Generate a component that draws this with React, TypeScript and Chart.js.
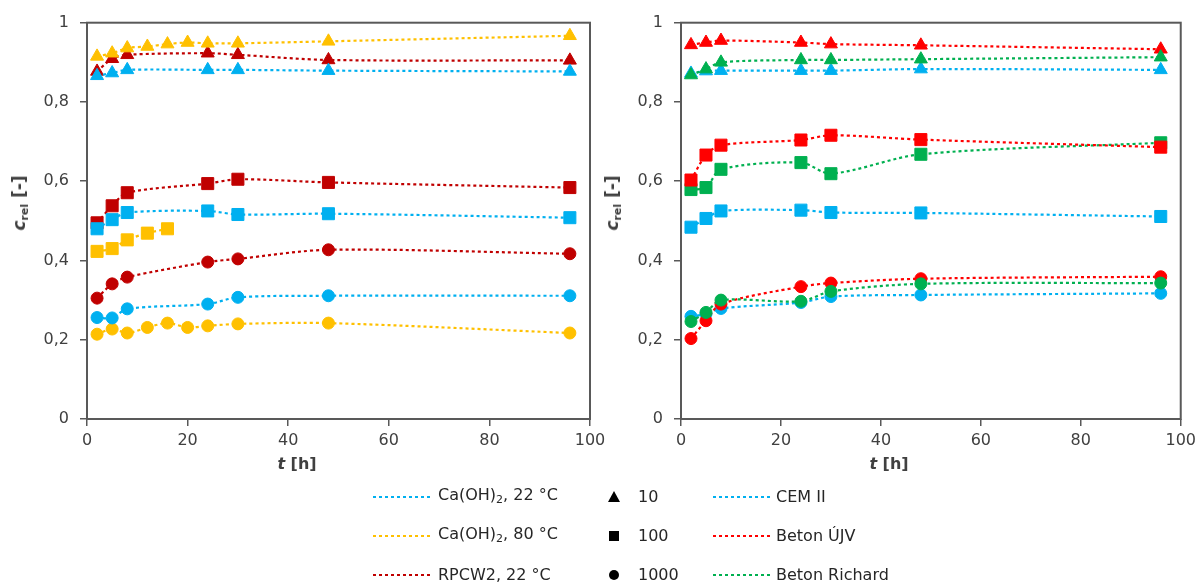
import React, { useEffect, useRef } from 'react';
import { Chart, registerables } from 'chart.js';

Chart.register(...registerables);

// ---------- data ----------
const tShort = [2, 5, 8, 24, 30, 48, 96];
const tHot = [2, 5, 8, 12, 16, 20, 24, 30, 48, 96];
const tHotSq = [2, 5, 8, 12, 16];

// left panel
const ca22_10 = [0.866, 0.873, 0.881, 0.881, 0.881, 0.879, 0.877];
const ca22_100 = [0.48, 0.503, 0.521, 0.525, 0.516, 0.518, 0.508];
const ca22_1000 = [0.256, 0.255, 0.278, 0.29, 0.307, 0.311, 0.311];
const ca80_10 = [0.915, 0.923, 0.936, 0.94, 0.946, 0.95, 0.948, 0.948, 0.953, 0.967];
const ca80_100 = [0.423, 0.43, 0.452, 0.469, 0.48];
const ca80_1000 = [0.214, 0.227, 0.217, 0.231, 0.242, 0.231, 0.235, 0.24, 0.242, 0.217];
const rpcw_10 = [0.877, 0.909, 0.919, 0.923, 0.919, 0.906, 0.905];
const rpcw_100 = [0.495, 0.538, 0.571, 0.594, 0.605, 0.597, 0.584];
const rpcw_1000 = [0.305, 0.341, 0.358, 0.396, 0.404, 0.427, 0.417];

// right panel
const cem_10 = [0.872, 0.878, 0.879, 0.879, 0.879, 0.883, 0.881];
const cem_100 = [0.484, 0.506, 0.525, 0.527, 0.521, 0.52, 0.511];
const cem_1000 = [0.259, 0.265, 0.279, 0.294, 0.309, 0.313, 0.317];
const ujv_10 = [0.944, 0.95, 0.955, 0.95, 0.946, 0.943, 0.933];
const ujv_100 = [0.603, 0.666, 0.691, 0.704, 0.716, 0.705, 0.686];
const ujv_1000 = [0.203, 0.248, 0.29, 0.334, 0.343, 0.354, 0.359];
const ric_10 = [0.868, 0.883, 0.9, 0.906, 0.906, 0.908, 0.913];
const ric_100 = [0.579, 0.584, 0.63, 0.647, 0.619, 0.668, 0.697];
const ric_1000 = [0.246, 0.269, 0.3, 0.297, 0.322, 0.341, 0.343];

const yTicks = [0, 0.2, 0.4, 0.6, 0.8, 1];
const xTicks = [0, 20, 40, 60, 80, 100];

const legendSeries = [
  { label: 'Ca(OH)', sub: '2', rest: ', 22 °C', color: '#00B0F0' },
  { label: 'Ca(OH)', sub: '2', rest: ', 80 °C', color: '#FFC000' },
  { label: 'RPCW2, 22 °C', sub: '', rest: '', color: '#C00000' },
];
const legendMarkers = [
  { label: '10', shape: 'triangle' },
  { label: '100', shape: 'rect' },
  { label: '1000', shape: 'circle' },
];
const legendRight = [
  { label: 'CEM II', color: '#00B0F0' },
  { label: 'Beton ÚJV', color: '#FF0000' },
  { label: 'Beton Richard', color: '#00B050' },
];

// ---------- styling ----------
const FONT = '"DejaVu Sans", sans-serif';
const TEXT = '#404040';
const AXIS = '#595959';
const BLUE = '#00B0F0';
const YELLOW = '#FFC000';
const DARKRED = '#C00000';
const RED = '#FF0000';
const GREEN = '#00B050';

const radiusFor: Record<string, number> = { triangle: 7.5, rect: 8.5, circle: 6 };

function series(times: number[], values: number[], color: string, style: string) {
  return {
    data: times.map((t, i) => ({ x: t, y: values[i] })),
    borderColor: color,
    backgroundColor: color,
    pointBackgroundColor: color,
    pointBorderColor: color,
    pointBorderWidth: 1,
    pointStyle: style,
    pointRadius: radiusFor[style],
    borderWidth: 2.2,
    borderDash: [3, 3],
    tension: 0.3,
    fill: false,
  };
}

const boxPlugin = {
  id: 'plotBox',
  beforeDatasetsDraw(chart: any) {
    const { ctx, chartArea: a } = chart;
    ctx.save();
    ctx.strokeStyle = AXIS;
    ctx.lineWidth = 2;
    ctx.strokeRect(a.left, a.top, a.right - a.left, a.bottom - a.top);
    ctx.restore();
  },
};

function makeOptions(yAxisWidth: number, padRight: number, canvasH: number) {
  const bottom = 419;
  return {
    responsive: false,
    animation: false,
    layout: { padding: { top: 22.7, right: padRight, bottom: 0, left: 0 } },
    plugins: { legend: { display: false }, tooltip: { enabled: false } },
    scales: {
      x: {
        type: 'linear',
        min: 0,
        max: 100,
        afterBuildTicks: (s: any) => {
          s.ticks = xTicks.map((v) => ({ value: v }));
        },
        afterFit: (s: any) => {
          s.height = canvasH - bottom;
        },
        border: { display: false },
        grid: { drawOnChartArea: false, drawTicks: true, tickLength: 7, color: AXIS, lineWidth: 1.5 },
        ticks: { color: TEXT, font: { family: FONT, size: 16 }, padding: 5, maxRotation: 0, autoSkip: false },
      },
      y: {
        type: 'linear',
        min: 0,
        max: 1,
        afterBuildTicks: (s: any) => {
          s.ticks = yTicks.map((v) => ({ value: v }));
        },
        afterFit: (s: any) => {
          s.width = yAxisWidth;
        },
        border: { display: false },
        grid: { drawOnChartArea: false, drawTicks: true, tickLength: 7, color: AXIS, lineWidth: 1.5 },
        ticks: {
          color: TEXT,
          font: { family: FONT, size: 16 },
          padding: 11,
          autoSkip: false,
          callback: (v: number) => String(Math.round(v * 10) / 10).replace('.', ','),
        },
      },
    },
  };
}

function Panel(props: { datasets: any[]; left: number; width: number; yAxisWidth: number; padRight: number }) {
  const ref = useRef<HTMLCanvasElement | null>(null);
  const H = 470;
  useEffect(() => {
    if (!ref.current) return;
    const chart = new Chart(ref.current, {
      type: 'line',
      data: { datasets: props.datasets },
      options: makeOptions(props.yAxisWidth, props.padRight, H) as any,
      plugins: [boxPlugin],
    } as any);
    return () => chart.destroy();
  }, []);
  return (
    <canvas
      ref={ref}
      width={props.width}
      height={H}
      style={{ position: 'absolute', left: props.left, top: 0, width: props.width, height: H }}
    />
  );
}

function YTitle({ x, y }: { x: number; y: number }) {
  return (
    <div
      style={{
        position: 'absolute',
        left: x,
        top: y,
        transform: 'translate(-50%, -50%) rotate(-90deg)',
        whiteSpace: 'nowrap',
        fontFamily: FONT,
        fontWeight: 'bold',
        fontSize: 17,
        color: TEXT,
        lineHeight: '20px',
      }}
    >
      <i>c</i>
      <sub style={{ fontSize: 11, verticalAlign: '-3px' }}>rel</sub> [-]
    </div>
  );
}

function XTitle({ x, y }: { x: number; y: number }) {
  return (
    <div
      style={{
        position: 'absolute',
        left: x,
        top: y,
        transform: 'translate(-50%, -50%)',
        whiteSpace: 'nowrap',
        fontFamily: FONT,
        fontWeight: 'bold',
        fontSize: 16,
        color: TEXT,
      }}
    >
      <i>t</i> [h]
    </div>
  );
}

function DotLine({ x1, x2, y, color }: { x1: number; x2: number; y: number; color: string }) {
  return (
    <div
      style={{
        position: 'absolute',
        left: x1,
        top: y - 1,
        width: x2 - x1,
        height: 2,
        background: `repeating-linear-gradient(to right, ${color} 0px, ${color} 3px, transparent 3px, transparent 6px)`,
      }}
    />
  );
}

function Marker({ x, y, shape }: { x: number; y: number; shape: string }) {
  if (shape === 'triangle') {
    return (
      <div
        style={{
          position: 'absolute',
          left: x - 6,
          top: y - 6,
          width: 0,
          height: 0,
          borderLeft: '6px solid transparent',
          borderRight: '6px solid transparent',
          borderBottom: '11px solid #000',
        }}
      />
    );
  }
  return (
    <div
      style={{
        position: 'absolute',
        left: x - 5,
        top: y - 5,
        width: 10,
        height: 10,
        background: '#000',
        borderRadius: shape === 'circle' ? '50%' : 0,
      }}
    />
  );
}

function LegendText({ x, y, children }: { x: number; y: number; children: any }) {
  return (
    <div
      style={{
        position: 'absolute',
        left: x,
        top: y,
        transform: 'translateY(-50%)',
        whiteSpace: 'nowrap',
        fontFamily: FONT,
        fontSize: 16,
        color: '#262626',
        lineHeight: '20px',
      }}
    >
      {children}
    </div>
  );
}

export default function App() {
  const leftSets = [
    series(tShort, ca22_10, BLUE, 'triangle'),
    series(tShort, ca22_100, BLUE, 'rect'),
    series(tShort, ca22_1000, BLUE, 'circle'),
    series(tHot, ca80_10, YELLOW, 'triangle'),
    series(tHotSq, ca80_100, YELLOW, 'rect'),
    series(tHot, ca80_1000, YELLOW, 'circle'),
    series(tShort, rpcw_10, DARKRED, 'triangle'),
    series(tShort, rpcw_100, DARKRED, 'rect'),
    series(tShort, rpcw_1000, DARKRED, 'circle'),
  ];
  const rightSets = [
    series(tShort, ujv_100, RED, 'rect'),
    series(tShort, ric_1000, GREEN, 'circle'),
    series(tShort, ric_10, GREEN, 'triangle'),
    series(tShort, ujv_10, RED, 'triangle'),
    series(tShort, ric_100, GREEN, 'rect'),
    series(tShort, ujv_1000, RED, 'circle'),
    series(tShort, cem_10, BLUE, 'triangle'),
    series(tShort, cem_100, BLUE, 'rect'),
    series(tShort, cem_1000, BLUE, 'circle'),
  ];
  const rows = [497, 536, 575];
  return (
    <div
      style={{
        position: 'absolute',
        left: 0,
        top: 0,
        width: 1201,
        height: 582,
        overflow: 'hidden',
        background: '#fff',
      }}
    >
      <Panel datasets={leftSets} left={0} width={630} yAxisWidth={87} padRight={40} />
      <Panel datasets={rightSets} left={600} width={601} yAxisWidth={81} padRight={17} />
      <YTitle x={22} y={203} />
      <YTitle x={615} y={203} />
      <XTitle x={297} y={463} />
      <XTitle x={889} y={463} />
      {legendSeries.map((s, i) => (
        <React.Fragment key={'s' + i}>
          <DotLine x1={373} x2={432} y={rows[i]} color={s.color} />
          <LegendText x={438} y={rows[i]}>
            {s.label}
            {s.sub ? <sub style={{ fontSize: 11, verticalAlign: '-3px' }}>{s.sub}</sub> : null}
            {s.rest}
          </LegendText>
        </React.Fragment>
      ))}
      {legendMarkers.map((m, i) => (
        <React.Fragment key={'m' + i}>
          <Marker x={614} y={rows[i]} shape={m.shape} />
          <LegendText x={638} y={rows[i]}>{m.label}</LegendText>
        </React.Fragment>
      ))}
      {legendRight.map((s, i) => (
        <React.Fragment key={'r' + i}>
          <DotLine x1={713} x2={770} y={rows[i]} color={s.color} />
          <LegendText x={776} y={rows[i]}>{s.label}</LegendText>
        </React.Fragment>
      ))}
    </div>
  );
}
